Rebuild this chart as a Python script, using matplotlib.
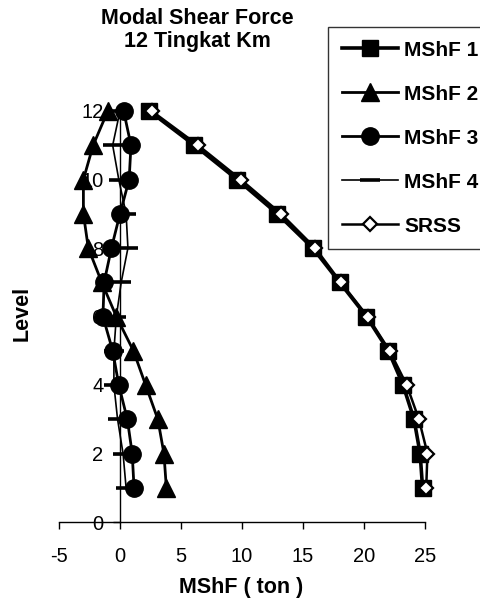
import matplotlib
matplotlib.use("Agg")
import matplotlib.pyplot as plt

plt.rcParams["font.family"] = ["Liberation Sans", "DejaVu Sans"]

levels = [12, 11, 10, 9, 8, 7, 6, 5, 4, 3, 2, 1]
mshf1 = [2.4, 6.1, 9.6, 12.9, 15.8, 18.0, 20.2, 22.0, 23.2, 24.1, 24.6, 24.8]
mshf2 = [-1.0, -2.2, -3.0, -3.0, -2.6, -1.5, -0.3, 1.1, 2.1, 3.1, 3.6, 3.8]
mshf3 = [0.3, 0.9, 0.75, 0.0, -0.7, -1.3, -1.4, -0.6, -0.1, 0.6, 1.0, 1.15]
mshf4 = [0.0, -0.6, -0.1, 0.5, 0.65, 0.1, -0.3, -0.5, -0.5, -0.2, 0.25, 0.5]
srss = [2.6, 6.4, 9.9, 13.2, 16.0, 18.1, 20.3, 22.1, 23.5, 24.5, 25.2, 25.1]

x_ticks = [-5, 0, 5, 10, 15, 20, 25]
y_ticks = [0, 2, 4, 6, 8, 10, 12]

W, H = 481, 606
fig = plt.figure(figsize=(W / 100, H / 100), dpi=100)
ax = fig.add_axes([59 / W, 1 - 522 / H, (425 - 59) / W, (522 - 111) / H])

ax.plot(mshf1, levels, "-", color="black", lw=2.6, marker="s", ms=12,
        mfc="black", mec="black", label="MShF 1", clip_on=False, zorder=3)
ax.plot(mshf2, levels, "-", color="black", lw=2.0, marker="^", ms=12.5,
        mfc="black", mec="black", label="MShF 2", clip_on=False, zorder=3)
ax.plot(mshf3, levels, "-", color="black", lw=2.0, marker="o", ms=12.5,
        mfc="black", mec="black", label="MShF 3", clip_on=False, zorder=3)
ax.plot(mshf4, levels, "-", color="black", lw=1.2, marker="_", ms=14,
        mew=2.6, mec="black", label="MShF 4", clip_on=False, zorder=3)
ax.plot(srss, levels, "-", color="black", lw=1.8, marker="D", ms=7,
        mfc="white", mec="black", mew=1.6, label="SRSS", clip_on=False, zorder=4)

ax.set_xlim(-5, 25)
ax.set_ylim(0, 12)
ax.set_xticks(x_ticks)
ax.set_yticks(y_ticks)
ax.set_xticklabels([str(v) for v in x_ticks])
ax.set_yticklabels([str(v) for v in y_ticks])

for side in ("top", "right"):
    ax.spines[side].set_visible(False)
ax.spines["left"].set_position(("data", 0))
ax.spines["bottom"].set_position(("data", 0))
ax.spines["left"].set_linewidth(1.0)
ax.spines["bottom"].set_linewidth(1.0)

ax.tick_params(axis="x", direction="out", length=5, width=1, pad=13, labelsize=14.5)
ax.tick_params(axis="y", direction="out", length=5, width=1, pad=7, labelsize=14.5)

fig.text(241 / W, 1 - 587 / H, "MShF ( ton )", ha="center", va="center",
         fontsize=15.5, fontweight="bold")
fig.text(22 / W, 1 - 313 / H, "Level", ha="center", va="center",
         rotation=90, fontsize=15.5, fontweight="bold")
fig.text(197 / W, 1 - 30 / H, "Modal Shear Force\n12 Tingkat Km", ha="center",
         va="center", fontsize=15.5, fontweight="bold", linespacing=1.15)

leg = ax.legend(loc="upper left", bbox_to_anchor=(328 / W, 1 - 27 / H),
                bbox_transform=fig.transFigure, borderaxespad=0,
                frameon=True, fancybox=False, edgecolor="black",
                prop={"weight": "bold", "size": 15}, handlelength=2.7,
                labelspacing=1.2, handletextpad=0.3, borderpad=0.65)
leg.get_frame().set_linewidth(1.0)

fig.savefig("out.png", dpi=100, facecolor="white")
